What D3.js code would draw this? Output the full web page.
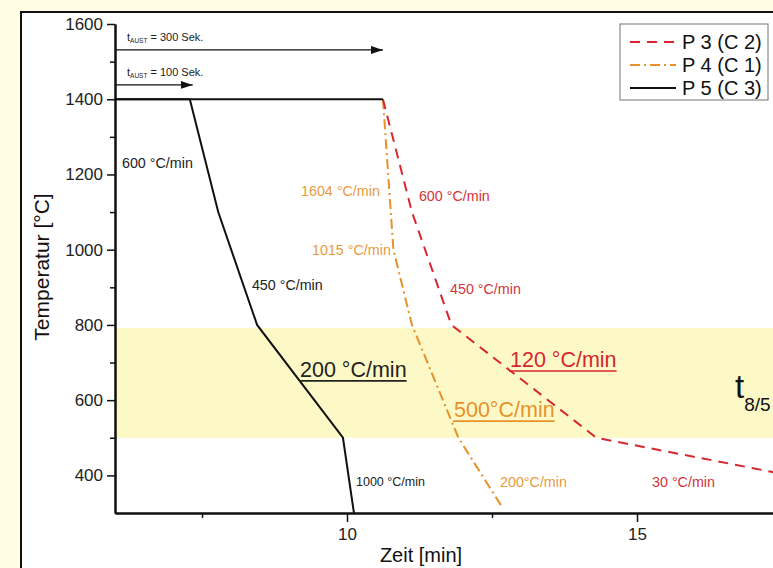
<!DOCTYPE html>
<html><head><meta charset="utf-8">
<script src="https://cdn.jsdelivr.net/npm/d3@7"></script>
<style>body{margin:0;padding:0;overflow:hidden;background:#fffde3}svg{display:block;font-family:"Liberation Sans",Arial,sans-serif}</style>
</head><body>
<svg id="c" width="773" height="568"></svg>
<script>
// ---- data ----
const p3Time = [10.62, 11.12, 11.8, 14.3, 20.97];
const p3Temp = [1400, 1100, 800, 500, 300];
const p4Time = [10.62, 10.8, 11.12, 11.92, 12.69];
const p4Temp = [1400, 1000, 800, 500, 312];
const p5Time = [6, 7.29, 7.78, 8.45, 9.93, 10.12];
const p5Temp = [1400, 1400, 1100, 800, 500, 300];
const holdTime = [6, 10.62];
const holdTemp = [1400, 1400];
const seriesNames = ["P 3 (C 2)", "P 4 (C 1)", "P 5 (C 3)"];
const yTicks = [400, 600, 800, 1000, 1200, 1400, 1600];
const yMinor = [500, 700, 900, 1100, 1300, 1500];
const xTicks = [10, 15];
const xMinor = [7.5, 12.5, 17.5];
const bandTemp = [500, 792];
const arrowT = [1531, 1438];
const arrowEnd = [10.62, 7.34];
const arrowLabel = ["300 Sek.", "100 Sek."];
const rateLabels = [
  {txt:"600 °C/min", t:6.12, T:1217, c:"#222", s:14.3},
  {txt:"450 °C/min", t:8.36, T:893, c:"#222", s:14.3},
  {txt:"200 °C/min", t:9.19, T:662, c:"#222", s:21.5, u:true},
  {txt:"1000 °C/min", t:10.155, T:372, c:"#222", s:12.5},
  {txt:"1604 °C/min", t:9.207, T:1143, c:"#ea9a40", s:14.3},
  {txt:"1015 °C/min", t:9.397, T:986, c:"#ea9a40", s:14.3},
  {txt:"600 °C/min", t:11.24, T:1130, c:"#d6333b", s:14.3},
  {txt:"450 °C/min", t:11.776, T:882, c:"#d6333b", s:14.3},
  {txt:"120 °C/min", t:12.81, T:688, c:"#d6262f", s:21.5, u:true},
  {txt:"500°C/min", t:11.845, T:555, c:"#e8912b", s:21.5, u:true},
  {txt:"200°C/min", t:12.638, T:369, c:"#ea9a40", s:14.3},
  {txt:"30 °C/min", t:15.259, T:369, c:"#d6333b", s:14.3}
];

// ---- setup ----
const svg = d3.select("#c");
const x = d3.scaleLinear().domain([6, 20]).range([115, 927]);
const y = d3.scaleLinear().domain([300, 1600]).range([513, 24]);
const RED = "#d9262e", ORANGE = "#e8912b";

svg.append("rect").attr("width",773).attr("height",568).attr("fill","#fffde3");
svg.append("rect").attr("x",21).attr("y",12).attr("width",900).attr("height",700)
  .attr("fill","#fff").attr("stroke","#111").attr("stroke-width",2);

// band
svg.append("rect").attr("x",x(6)+1).attr("y",y(bandTemp[1]))
  .attr("width",x(20)-x(6)).attr("height",y(bandTemp[0])-y(bandTemp[1]))
  .attr("fill","#fcf9c6");

const line = d3.line().x(d=>x(d[0])).y(d=>y(d[1]));
const zip = (a,b)=>a.map((v,i)=>[v,b[i]]);

// axes
const yAxis = svg.append("g").attr("transform",`translate(${x(6)},0)`)
  .call(d3.axisLeft(y).tickValues(yTicks).tickFormat(d3.format("d")).tickSize(8).tickPadding(4).tickSizeOuter(0));
const yAxisMinor = svg.append("g").attr("transform",`translate(${x(6)},0)`)
  .call(d3.axisLeft(y).tickValues(yMinor).tickSize(5).tickFormat("").tickSizeOuter(0));
const xAxis = svg.append("g").attr("transform",`translate(0,${y(300)})`)
  .call(d3.axisBottom(x).tickValues(xTicks).tickFormat(d3.format("d")).tickSize(9).tickPadding(6).tickSizeOuter(0));
const xAxisMinor = svg.append("g").attr("transform",`translate(0,${y(300)})`)
  .call(d3.axisBottom(x).tickValues(xMinor).tickSize(5).tickFormat("").tickSizeOuter(0));
[yAxis,xAxis,yAxisMinor,xAxisMinor].forEach(g=>{
  g.select(".domain").attr("stroke","#111").attr("stroke-width",2);
  g.selectAll(".tick line").attr("stroke","#111").attr("stroke-width",1.5);
  g.selectAll(".tick text").attr("fill","#222").style("font-size","17px").style("font-family","'Liberation Sans',Arial,sans-serif");
});

svg.append("text").attr("transform","translate(49,267) rotate(-90)").attr("text-anchor","middle")
  .style("font-size","21px").attr("fill","#111").text("Temperatur [°C]");
svg.append("text").attr("x",421).attr("y",562).attr("text-anchor","middle")
  .style("font-size","20px").attr("fill","#111").text("Zeit [min]");

// arrows
const defs = svg.append("defs");
defs.append("marker").attr("id","ah").attr("viewBox","0 0 12 8").attr("refX",12).attr("refY",4)
  .attr("markerWidth",12).attr("markerHeight",8).attr("markerUnits","userSpaceOnUse").attr("orient","auto")
  .append("path").attr("d","M0,0L12,4L0,8Z").attr("fill","#111");
arrowT.forEach((T,i)=>{
  svg.append("line").attr("x1",x(6)).attr("x2",x(arrowEnd[i])).attr("y1",y(T)).attr("y2",y(T))
    .attr("stroke","#111").attr("stroke-width",1.3).attr("marker-end","url(#ah)");
  const t = svg.append("text").attr("x",x(6)+12).attr("y",y(T)-9).attr("fill","#222").style("font-size","11px");
  t.append("tspan").text("t");
  t.append("tspan").attr("dy",2.5).style("font-size","6.5px").text("AUST");
  t.append("tspan").attr("dy",-2.5).text(" = " + arrowLabel[i]);
});

// series
svg.append("path").attr("d",line(zip(p4Time,p4Temp))).attr("fill","none").attr("stroke",ORANGE)
  .attr("stroke-width",2).attr("stroke-dasharray","10,4,2,4");
svg.append("path").attr("d",line(zip(p3Time,p3Temp))).attr("fill","none").attr("stroke",RED)
  .attr("stroke-width",2).attr("stroke-dasharray","10,7");
svg.append("path").attr("d",line(zip(holdTime,holdTemp))).attr("fill","none").attr("stroke","#111").attr("stroke-width",2);
svg.append("path").attr("d",line(zip(p5Time,p5Temp))).attr("fill","none").attr("stroke","#111").attr("stroke-width",2);

// rate labels
rateLabels.forEach(d=>{
  const tx = svg.append("text").attr("x",x(d.t)).attr("y",y(d.T)).attr("fill",d.c)
    .style("font-size",d.s+"px").text(d.txt);
  if(d.u){
    const w = tx.node().getComputedTextLength();
    svg.append("line").attr("x1",x(d.t)-1).attr("x2",x(d.t)+w).attr("y1",y(d.T)+4).attr("y2",y(d.T)+4)
      .attr("stroke",d.c).attr("stroke-width",1.6);
  }
});
const t85 = svg.append("text").attr("x",x(16.69)).attr("y",y(606)).attr("fill","#111").style("font-size","33px");
t85.append("tspan").text("t");
t85.append("tspan").attr("dy",13).style("font-size","19px").text("8/5");

// legend
const lg = svg.append("g");
lg.append("rect").attr("x",620).attr("y",24).attr("width",148).attr("height",76)
  .attr("fill","#fff").attr("stroke","#8a8a8a").attr("stroke-width",1.2);
const lstyles = [{c:RED,d:"10,7"},{c:ORANGE,d:"10,4,2,4"},{c:"#111",d:null}];
seriesNames.forEach((n,i)=>{
  const yy = 42 + i*23;
  const l = lg.append("line").attr("x1",630).attr("x2",676).attr("y1",yy).attr("y2",yy)
    .attr("stroke",lstyles[i].c).attr("stroke-width",2);
  if(lstyles[i].d) l.attr("stroke-dasharray",lstyles[i].d);
  lg.append("text").attr("x",682).attr("y",yy+7).attr("fill","#111").style("font-size","20px").text(n);
});
</script>
</body></html>
